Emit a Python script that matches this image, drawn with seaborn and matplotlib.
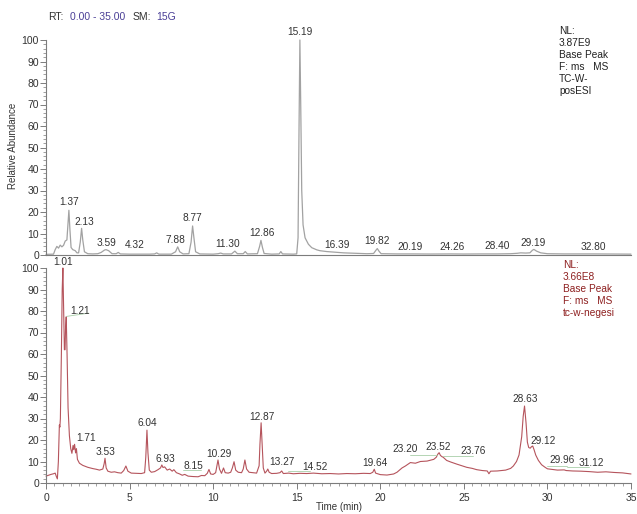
import matplotlib
matplotlib.use("Agg")
import matplotlib.pyplot as plt
from matplotlib.ticker import MultipleLocator
import numpy as np
import pandas as pd
import seaborn as sns

# ---- chromatogram traces (retention time in min, relative abundance in %) ----
pos_time = [0.0, 0.45, 0.55, 0.65, 0.75, 0.85, 0.95, 1.05, 1.15, 1.25, 1.32, 1.37, 1.43, 1.5,
            1.6, 1.75, 1.85, 1.95, 2.05, 2.13, 2.2, 2.3, 2.5, 2.8, 3.1, 3.3, 3.5, 3.59, 3.75,
            3.95, 4.2, 4.32, 4.45, 5.0, 5.6, 6.2, 6.5, 6.62, 6.75, 7.5, 7.75, 7.88, 8.0, 8.2,
            8.55, 8.68, 8.77, 8.85, 8.95, 9.2, 10.0, 10.3, 10.45, 10.6, 11.1, 11.30, 11.45,
            11.8, 11.92, 12.05, 12.65, 12.78, 12.86, 12.95, 13.05, 13.5, 13.95, 14.05, 14.15,
            14.8, 15.0, 15.08, 15.14, 15.19, 15.24, 15.30, 15.38, 15.5, 15.7, 15.9, 16.2,
            16.39, 16.8, 17.3, 17.8, 18.5, 19.2, 19.6, 19.72, 19.82, 19.92, 20.05, 20.19,
            21.0, 22.0, 23.0, 24.26, 25.0, 26.0, 27.0, 27.8, 28.2, 28.40, 28.7, 28.95, 29.1,
            29.19, 29.35, 29.6, 30.0, 31.0, 32.8, 34.0, 35.0]
pos_abund = [0.3, 0.4, 2.5, 4.0, 3.2, 4.6, 3.8, 4.5, 6.5, 7.0, 15.0, 20.8, 12.0, 3.5,
             2.5, 2.0, 1.0, 1.0, 6.0, 12.4, 7.0, 1.5, 0.6, 0.5, 0.6, 1.2, 2.3, 2.5, 2.0,
             0.6, 0.6, 1.2, 0.5, 0.4, 0.4, 0.4, 0.5, 1.0, 0.4, 0.4, 1.5, 3.8, 1.5, 0.5,
             0.6, 6.0, 13.5, 8.0, 1.5, 0.5, 0.4, 0.6, 0.9, 0.5, 0.5, 1.8, 0.6,
             0.6, 1.6, 0.5, 0.6, 4.0, 6.8, 3.5, 0.7, 0.4, 0.5, 1.6, 0.5,
             0.4, 0.5, 8.0, 60.0, 100.0, 70.0, 30.0, 14.0, 8.0, 5.0, 3.4, 2.4,
             2.0, 1.6, 1.3, 1.0, 0.8, 0.6, 0.7, 2.0, 3.0, 1.8, 0.6, 0.6,
             0.5, 0.5, 0.45, 0.5, 0.45, 0.5, 0.5, 0.6, 0.8, 1.0, 0.9, 1.0, 2.2,
             2.6, 1.8, 1.0, 0.6, 0.5, 0.5, 0.45, 0.4]

neg_time = [0.0, 0.15, 0.3, 0.45, 0.55, 0.62, 0.68, 0.74, 0.80, 0.83, 0.86, 0.92, 0.97, 1.01,
            1.06, 1.10, 1.14, 1.17, 1.21, 1.26, 1.32, 1.40, 1.48, 1.55, 1.62, 1.66, 1.71, 1.77,
            1.82, 1.88, 2.0, 2.2, 2.5, 2.8, 3.0, 3.2, 3.4, 3.48, 3.53, 3.6, 3.7, 3.9, 4.1, 4.3,
            4.5, 4.65, 4.78, 4.9, 5.1, 5.4, 5.7, 5.9, 5.97, 6.04, 6.1, 6.18, 6.3, 6.5, 6.7,
            6.85, 6.93, 7.0, 7.1, 7.25, 7.4, 7.55, 7.65, 7.8, 8.0, 8.15, 8.3, 8.5, 8.8, 9.1,
            9.3, 9.5, 9.65, 9.75, 9.85, 10.0, 10.15, 10.29, 10.38, 10.5, 10.62, 10.72, 10.9,
            11.05, 11.15, 11.25, 11.35, 11.5, 11.7, 11.8, 11.9, 12.0, 12.15, 12.4, 12.6, 12.75,
            12.80, 12.87, 12.93, 13.0, 13.1, 13.2, 13.27, 13.35, 13.5, 13.8, 14.0, 14.1, 14.2,
            14.52, 14.8, 15.2, 15.6, 16.0, 16.5, 17.0, 17.5, 18.0, 18.5, 19.0, 19.4, 19.55,
            19.64, 19.72, 20.0, 20.4, 20.8, 21.0, 21.3, 21.5, 21.8, 22.1, 22.4, 22.8, 23.0,
            23.2, 23.35, 23.45, 23.52, 23.6, 23.7, 23.76, 23.97, 24.2, 24.57, 24.9, 25.17,
            25.5, 25.77, 26.1, 26.4, 26.5, 26.6, 27.0, 27.5, 27.8, 27.96, 28.15, 28.3, 28.46,
            28.55, 28.63, 28.72, 28.8, 28.88, 28.97, 29.05, 29.12, 29.2, 29.3, 29.46, 29.65,
            29.86, 30.0, 30.3, 30.6, 31.0, 31.12, 31.5, 32.0, 32.5, 33.0, 33.5, 34.0, 34.5, 35.0]
neg_abund = [3.2, 3.6, 4.0, 4.3, 4.6, 3.0, 1.9, 10.0, 27.0, 26.0, 30.0, 60.0, 90.0, 100.0,
             80.0, 62.0, 62.0, 72.0, 77.3, 60.0, 35.0, 22.0, 16.0, 13.8, 17.5, 15.5, 18.0, 14.0,
             16.0, 11.0, 9.2, 8.2, 7.3, 6.7, 6.4, 6.0, 6.5, 9.0, 11.5, 7.0, 5.5, 5.0, 5.2, 4.8,
             4.6, 5.8, 7.9, 5.5, 4.6, 4.5, 4.4, 4.8, 12.0, 24.6, 14.0, 6.0, 5.0, 5.3, 6.2,
             7.0, 8.4, 7.2, 7.5, 6.0, 6.5, 5.5, 6.2, 4.8, 4.2, 3.6, 4.0, 3.2, 3.0, 2.9,
             3.5, 3.4, 4.5, 6.3, 4.2, 4.0, 4.8, 10.7, 6.5, 4.5, 7.0, 4.8, 4.6,
             5.0, 7.0, 9.9, 6.0, 5.0, 4.8, 6.5, 10.7, 6.5, 5.0, 4.8, 4.6, 8.0,
             18.0, 28.0, 18.0, 7.0, 4.6, 5.5, 6.5, 5.0, 4.4, 4.5, 4.8, 5.6, 4.4,
             4.6, 4.3, 4.5, 4.4, 4.6, 4.3, 4.4, 4.2, 4.4, 4.3, 4.5, 4.4, 5.0,
             6.4, 4.6, 3.9, 3.7, 4.2, 5.0, 7.0, 7.9, 9.5, 9.2, 10.0, 10.2, 10.6,
             11.0, 12.0, 13.5, 14.1, 12.8, 12.2, 12.0, 10.5, 9.8, 8.8, 8.0, 7.3,
             6.8, 6.2, 5.8, 5.6, 4.3, 5.5, 5.6, 6.0, 6.8, 7.9, 10.0, 13.0, 21.5,
             31.0, 35.8, 28.0, 19.0, 16.5, 16.2, 16.9, 17.2, 15.5, 13.0, 10.5, 8.5,
             7.3, 6.6, 6.3, 6.0, 6.1, 5.8, 5.6, 5.5, 5.3, 5.0, 5.2, 4.9, 4.7, 4.2]

# ---- annotated retention times ----
pos_peak_rt = [1.37, 2.13, 3.59, 4.32, 7.88, 8.77, 11.30, 12.86, 15.19, 16.39,
               19.82, 20.19, 24.26, 28.40, 29.19, 32.80]
neg_peak_rt = [1.01, 1.21, 1.71, 3.53, 6.04, 6.93, 8.15, 10.29, 12.87, 13.27,
               14.52, 19.64, 23.20, 23.52, 23.76, 28.63, 29.12, 29.96, 31.12]

# label anchor points (data coordinates), one per annotated peak
pos_label_xy = [(1.39, 24.8), (2.29, 15.5), (3.63, 5.7), (5.32, 4.65), (7.76, 7.0),
                (8.78, 17.1), (10.85, 5.0), (12.91, 10.1), (15.2, 103.5), (17.39, 4.65),
                (19.79, 6.5), (21.78, 3.9), (24.27, 3.9), (26.97, 4.2), (29.16, 5.7),
                (32.75, 3.9)]
neg_label_xy = [(1.04, 103.0), (2.03, 80.0), (2.38, 20.8), (3.55, 14.6), (6.08, 27.8),
                (7.12, 11.0), (8.81, 7.9), (10.35, 13.5), (12.91, 30.8), (14.10, 9.9),
                (16.09, 7.3), (19.68, 9.2), (21.48, 15.7), (23.47, 16.9), (25.57, 14.9),
                (28.66, 38.9), (29.75, 19.5), (30.85, 10.7), (32.65, 9.4)]
# thin leader lines under some labels: (x0, x1, y0, y1)
neg_leaders = [(1.24, 2.55, 77.5, 79.0), (8.2, 9.3, 6.2, 6.2), (14.5, 15.8, 5.6, 5.6),
               (21.8, 23.4, 13.0, 13.0), (23.75, 25.55, 12.6, 12.6),
               (30.0, 31.2, 7.9, 7.9), (31.2, 32.5, 7.4, 7.4)]

pos_info = ["NL:", "3.87E9", "Base Peak", "F: ms   MS", "TC-W-", "posESI"]
neg_info = ["NL:", "3.66E8", "Base Peak", "F: ms   MS", "tc-w-negesi"]

sns.set_style("white")
plt.rcParams["font.family"] = ["Liberation Sans", "DejaVu Sans"]

W, H = 637, 514
fig = plt.figure(figsize=(W / 100, H / 100), dpi=100)
fig.patch.set_facecolor("white")

ax_top = fig.add_axes([46 / W, 1 - 255 / H, 585 / W, 215 / H])
ax_bot = fig.add_axes([46 / W, 1 - 483 / H, 585 / W, 215 / H])

top_df = pd.DataFrame({"time": pos_time, "abund": pos_abund})
bot_df = pd.DataFrame({"time": neg_time, "abund": neg_abund})

top_color = "#a2a2a2"
bot_color = "#b5545c"
axis_color = "#7c7c7c"
label_color = "#333333"

sns.lineplot(data=top_df, x="time", y="abund", ax=ax_top, color=top_color,
             linewidth=0.9, sort=False, estimator=None)
sns.lineplot(data=bot_df, x="time", y="abund", ax=ax_bot, color=bot_color,
             linewidth=0.8, sort=False, estimator=None)

for ax in (ax_top, ax_bot):
    ax.set_xlim(0, 35)
    ax.set_ylim(0, 100)
    ax.set_xlabel("")
    ax.set_ylabel("")
    ax.set_facecolor("none")
    for line in ax.lines:
        line.set_clip_on(False)
    for side in ("top", "right"):
        ax.spines[side].set_visible(False)
    for side in ("left", "bottom"):
        ax.spines[side].set_color(axis_color)
        ax.spines[side].set_linewidth(0.8)
    ax.yaxis.set_major_locator(MultipleLocator(10))
    ax.yaxis.set_minor_locator(MultipleLocator(2))
    ax.tick_params(axis="y", which="major", direction="out", length=4, width=0.7,
                   color=axis_color, labelsize=7.5, labelcolor=label_color, pad=1, left=True)
    ax.tick_params(axis="y", which="minor", direction="out", length=2, width=0.5,
                   color=axis_color, left=True)

ax_top.tick_params(axis="x", which="both", bottom=False, labelbottom=False)
ax_bot.xaxis.set_major_locator(MultipleLocator(5))
ax_bot.xaxis.set_minor_locator(MultipleLocator(0.5))
ax_bot.tick_params(axis="x", which="major", direction="out", length=4, width=0.7,
                   color=axis_color, labelsize=7.5, labelcolor=label_color, pad=3, bottom=True)
ax_bot.tick_params(axis="x", which="minor", direction="out", length=2, width=0.5,
                   color=axis_color, bottom=True)

# peak annotations
for rt, (lx, ly) in zip(pos_peak_rt, pos_label_xy):
    ax_top.text(lx, ly, f"{rt:.2f}", ha="center", va="center", fontsize=7.3,
                color=label_color, clip_on=False)
for rt, (lx, ly) in zip(neg_peak_rt, neg_label_xy):
    ax_bot.text(lx, ly, f"{rt:.2f}", ha="center", va="center", fontsize=7.3,
                color=label_color, clip_on=False)
for x0, x1, y0, y1 in neg_leaders:
    ax_bot.plot([x0, x1], [y0, y1], color="#a8cfa8", linewidth=0.6, clip_on=False)

# header line
hy = 1 - 17.3 / H
fig.text(48 / W, hy, "RT:", fontsize=7.5, color="#333333", ha="left", va="center")
fig.text(70 / W, hy, "0.00 - 35.00", fontsize=7.5, color="#4a3f96", ha="left", va="center")
fig.text(133 / W, hy, "SM:", fontsize=7.5, color="#333333", ha="left", va="center")
fig.text(156 / W, hy, "15G", fontsize=7.5, color="#4a3f96", ha="left", va="center")

# trace info blocks
for i, s in enumerate(pos_info):
    fig.text(559 / W, 1 - (31 + 12.1 * i) / H, s, fontsize=7.3, color="#222222",
             ha="left", va="center")
for i, s in enumerate(neg_info):
    fig.text(563 / W, 1 - (265 + 11.9 * i) / H, s, fontsize=7.3, color="#8e2020",
             ha="left", va="center")

fig.text(13 / W, 1 - 146 / H, "Relative Abundance", rotation=90, fontsize=7,
         color=label_color, ha="center", va="center")
fig.text(339 / W, 1 - 507 / H, "Time (min)", fontsize=7, color=label_color,
         ha="center", va="center")

fig.savefig("out.png", dpi=100, facecolor="white")
